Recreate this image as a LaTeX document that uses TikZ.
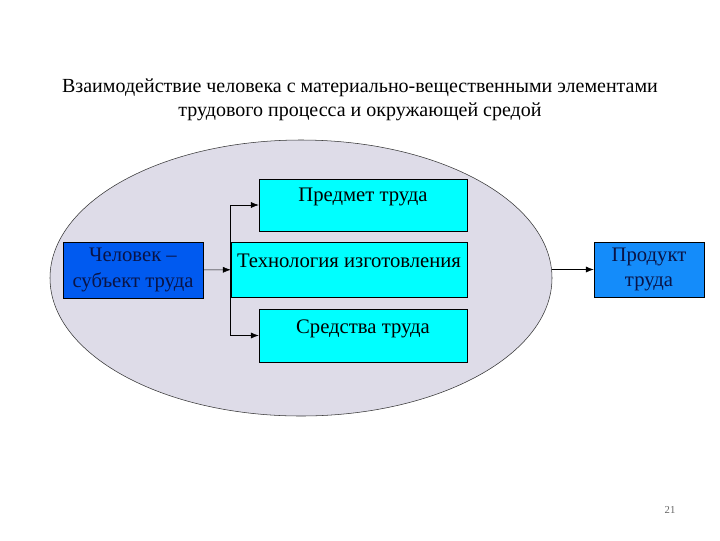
\documentclass[tikz,border=0pt]{standalone}
\usepackage{fontspec}
\setmainfont{Liberation Serif}
\usetikzlibrary{arrows.meta,shapes.geometric}
\definecolor{fieldgray}{RGB}{222,220,232}
\definecolor{boxcyan}{RGB}{0,255,255}
\definecolor{boxblue}{RGB}{0,90,240}
\definecolor{boxblueb}{RGB}{20,140,250}
\definecolor{inkblue}{RGB}{10,20,70}
\tikzset{
	cyanbox/.style={draw=black, fill=boxcyan, font=\fontsize{15.5}{18}\selectfont, align=center, inner sep=0pt},
	bluebox/.style={draw=black, text=inkblue, font=\fontsize{15.5}{19}\selectfont, align=center, inner sep=0pt},
}
\begin{document}
\begin{tikzpicture}[x=0.75pt, y=-0.75pt, >={Latex[length=2.1mm, width=1.6mm]}]
	\useasboundingbox[fill=white] (0,0) rectangle (720,540);
	\node[font=\fontsize{15}{18}\selectfont, align=center] (title) at (360,100) {Взаимодействие человека с материально-вещественными элементами\\трудового процесса и окружающей средой};
	\node[ellipse, fill=fieldgray, draw=black!80, minimum width=376.5pt, minimum height=207pt, inner sep=0pt] (field) at (301,278) {};
	% boxes
	\node[bluebox, fill=boxblue, minimum width=105pt, minimum height=42pt] (man) at (133,270) {Человек --\\субъект труда};
	\node[cyanbox, minimum width=177pt, text height=18.75pt, text depth=22.5pt] (tech) at (349,269.5) {Технология изготовления};
	\node[cyanbox, minimum width=156pt, text height=16.5pt, text depth=22.5pt] (subj) at (363,205) {Предмет  труда};
	\node[cyanbox, minimum width=156pt, text height=18pt, text depth=21.75pt] (means) at (363,335.5) {Средства  труда};
	\node[bluebox, fill=boxblueb, minimum width=82.5pt, minimum height=41.25pt] (prod) at (649,269.5) {Продукт\\труда};
	% connectors
	\draw[->] (man) -- (tech);
	\draw[->] (tech.west) |- (subj.west);
	\draw[->] (tech.west) |- (means.west);
	\draw[->] (prod.west -| field.east) -- (prod);
	\node[font=\fontsize{8}{10}\selectfont, text=black!60] (page) at (670,510) {21};
\end{tikzpicture}
\end{document}
